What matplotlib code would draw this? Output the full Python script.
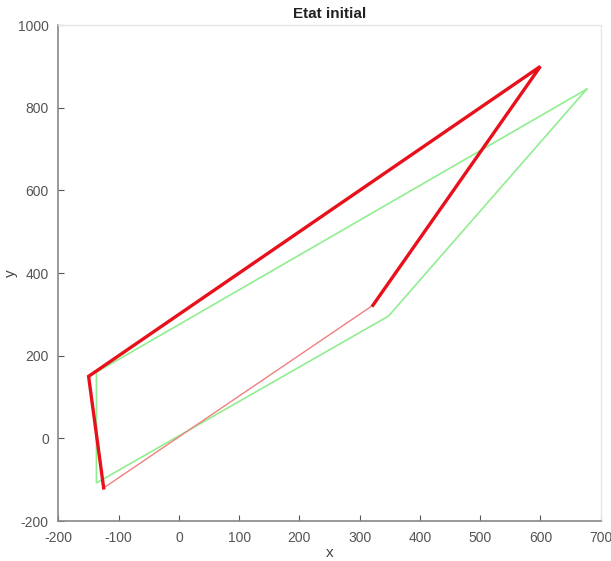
import matplotlib
matplotlib.use("Agg")
import matplotlib.pyplot as plt

plt.rcParams["font.family"] = ["Liberation Sans", "DejaVu Sans"]
plt.rcParams["axes.unicode_minus"] = False

# Red (thick) linkage vertices
red_x = [322, 600, -150, -125]
red_y = [322, 900, 150, -120]
# Red thin closing link
red_thin_x = [-125, 322]
red_thin_y = [-120, 322]
# Green polygon vertices
green_x = [677, -137, -137, 348, 677]
green_y = [845, 160, -108, 296, 845]

xticks = [-200, -100, 0, 100, 200, 300, 400, 500, 600, 700]
yticks = [-200, 0, 200, 400, 600, 800, 1000]

fig = plt.figure(figsize=(6.11, 5.61), dpi=100)
ax = fig.add_axes([0.0957, 0.0713, 0.8873, 0.8840])

ax.plot(green_x, green_y, color="#90ee90", lw=1.2, solid_joinstyle="miter")
ax.plot(red_thin_x, red_thin_y, color="#f08080", lw=1.0)
ax.plot(red_x, red_y, color="#e8101a", lw=2.4, solid_joinstyle="miter")

ax.set_xlim(-200, 700)
ax.set_ylim(-200, 1000)
ax.set_xticks(xticks)
ax.set_yticks(yticks)
ax.tick_params(direction="in", length=4, colors="#555555", labelsize=10,
               top=False, right=False)
ax.tick_params(axis="x", pad=7)
ax.tick_params(axis="y", pad=7)
for s in ["left", "bottom"]:
    ax.spines[s].set_color("#888888")
    ax.spines[s].set_linewidth(1.2)
for s in ["top", "right"]:
    ax.spines[s].set_color("#e6e6e6")
    ax.spines[s].set_linewidth(1.0)

ax.set_title("Etat initial", fontsize=11, fontweight="bold", color="#222222", pad=5)
ax.set_xlabel("x", fontsize=11, color="#444444", labelpad=1)
ax.set_ylabel("y", fontsize=11, color="#444444")
ax.yaxis.set_label_coords(-0.075, 0.5)

fig.savefig("out.png", dpi=100, facecolor="white")
